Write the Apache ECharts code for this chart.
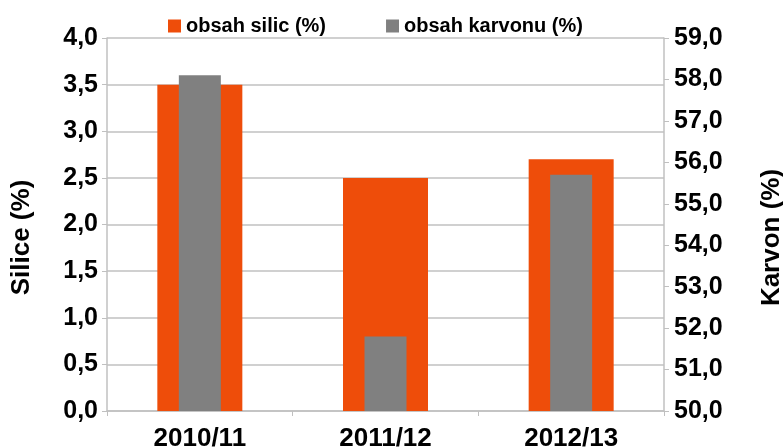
<!DOCTYPE html>
<html>
<head>
<meta charset="utf-8">
<script src="https://cdn.jsdelivr.net/npm/echarts@6/dist/echarts.min.js"></script>
<style>html,body{margin:0;padding:0;background:#fff;}#c{width:783px;height:448px;}</style>
</head>
<body>
<div id="c"></div>
<script>
const categories = ['2010/11', '2011/12', '2012/13'];
const silic = [3.5, 2.5, 2.7];
const karvon = [58.1, 51.8, 55.7];
const seriesNames = ['obsah silic (%)', 'obsah karvonu (%)'];
const leftName = 'Silice (%)';
const rightName = 'Karvon (%)';

const FONT = '"Liberation Sans", Arial, sans-serif';
const fmt = v => v.toFixed(1).replace('.', ',');
const gridColor = '#c0c0c0';

const chart = echarts.init(document.getElementById('c'));
chart.setOption({
  animation: false,
  backgroundColor: '#ffffff',
  legend: {
    top: 11, left: 163, itemWidth: 13, itemHeight: 13, itemGap: 60,
    icon: 'rect',
    textStyle: { fontFamily: FONT, fontWeight: 'bold', fontSize: 20, color: '#000' },
    data: seriesNames
  },
  grid: { left: 107, right: 119, top: 38, bottom: 37, containLabel: false, outerBoundsMode: 'none' },
  xAxis: [{
    type: 'category', data: categories,
    axisLine: { lineStyle: { color: gridColor, width: 1.5 } },
    axisTick: { show: true, length: 5, lineStyle: { color: gridColor } },
    axisLabel: { margin: 15, fontFamily: FONT, fontWeight: 'bold', fontSize: 26, color: '#000' }
  }, {
    type: 'category', data: categories, show: false
  }],
  yAxis: [{
    type: 'value', min: 0, max: 4, interval: 0.5, position: 'left',
    name: leftName, nameLocation: 'middle', nameRotate: 90, nameGap: 72,
    nameTextStyle: { fontFamily: FONT, fontWeight: 'bold', fontSize: 26, color: '#000', padding: [0, 26, 0, 0] },
    axisLine: { show: true, lineStyle: { color: gridColor, width: 1.5 } },
    axisTick: { show: true, length: 5, lineStyle: { color: gridColor } },
    splitLine: { show: true, lineStyle: { color: gridColor, width: 1.5 } },
    axisLabel: { margin: 9, formatter: fmt, fontFamily: FONT, fontWeight: 'bold', fontSize: 25, color: '#000' }
  }, {
    type: 'value', min: 50, max: 59, interval: 1, position: 'right',
    name: rightName, nameLocation: 'middle', nameRotate: 90, nameGap: 95,
    nameTextStyle: { fontFamily: FONT, fontWeight: 'bold', fontSize: 26, color: '#000', padding: [0, 26, 0, 0] },
    axisLine: { show: true, lineStyle: { color: gridColor, width: 1.5 } },
    axisTick: { show: true, length: 5, lineStyle: { color: gridColor } },
    splitLine: { show: false },
    axisLabel: { margin: 10, formatter: fmt, fontFamily: FONT, fontWeight: 'bold', fontSize: 25, color: '#000' }
  }],
  series: [{
    name: seriesNames[0], type: 'bar', data: silic, xAxisIndex: 0, yAxisIndex: 0,
    barWidth: 85, itemStyle: { color: '#ee4d0a' }
  }, {
    name: seriesNames[1], type: 'bar', data: karvon, xAxisIndex: 1, yAxisIndex: 1,
    barWidth: 42, itemStyle: { color: '#808080' }, z: 3
  }]
});
</script>
</body>
</html>
